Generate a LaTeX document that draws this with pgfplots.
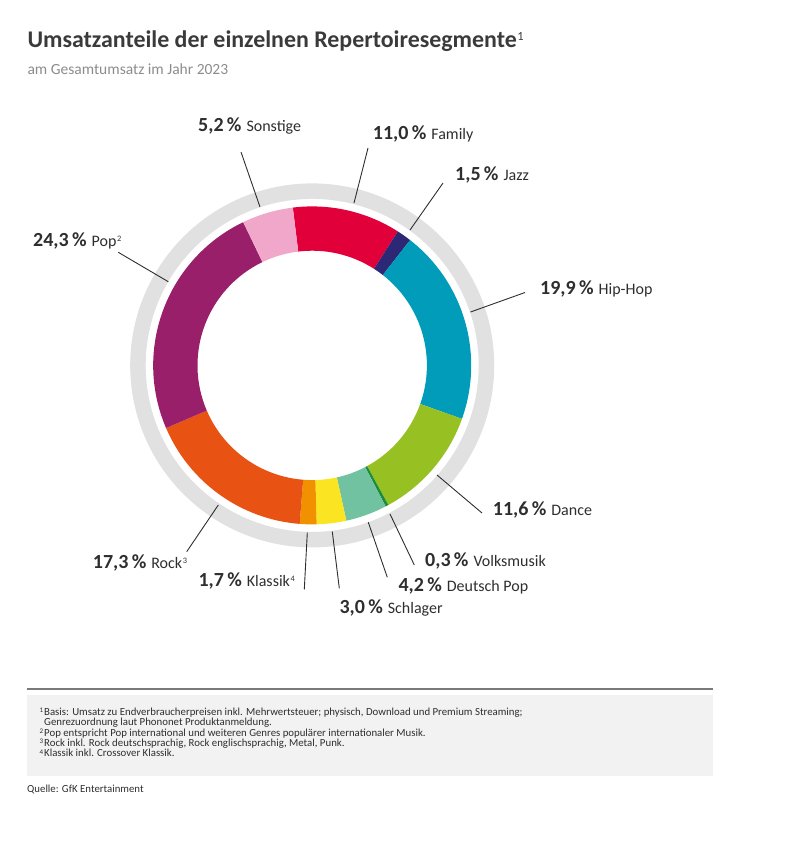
\documentclass[border=0pt]{standalone}
\usepackage{pgfplots}
\pgfplotsset{compat=1.18}
\usepackage{pgfplotstable}
\usepackage{fontspec}
\setmainfont{Carlito}

\definecolor{txt}{HTML}{2E2E2E}
\definecolor{titletxt}{HTML}{3A3A3A}
\definecolor{subtxt}{HTML}{8C8C8C}
\definecolor{ringgray}{HTML}{E1E1E1}
\definecolor{notebg}{HTML}{F2F2F2}
\definecolor{rulegray}{HTML}{7A7A7A}
\definecolor{cFamily}{RGB}{226,0,58}
\definecolor{cJazz}{RGB}{45,40,118}
\definecolor{cHipHop}{RGB}{0,156,186}
\definecolor{cDance}{RGB}{151,192,35}
\definecolor{cVolks}{RGB}{27,140,58}
\definecolor{cDPop}{RGB}{112,194,160}
\definecolor{cSchlager}{RGB}{251,229,35}
\definecolor{cKlassik}{RGB}{242,145,0}
\definecolor{cRock}{RGB}{232,82,18}
\definecolor{cPop}{RGB}{154,31,106}
\definecolor{cSonst}{RGB}{241,167,202}

% Anteile in Prozent, im Uhrzeigersinn ab Family
\pgfplotstableread{
genre      share start
Family     11.0  0.0
Jazz       1.5   11.0
HipHop     19.9  12.5
Dance      11.6  32.4
Volksmusik 0.3   44.0
DeutschPop 4.2   44.3
Schlager   3.0   48.5
Klassik    1.7   51.5
Rock       17.3  53.2
Pop        24.3  70.5
Sonstige   5.2   94.8
}\segments

% Ringsegment um den Datenpunkt (Radien in bp)
\pgfdeclareplotmark{ringpart}{%
  \pgfmathsetmacro\angA{97-3.6*\segstart}%
  \pgfmathsetmacro\angB{97-3.6*(\segstart+\segshare)}%
  \pgfpathmoveto{\pgfpointpolar{\angA}{159bp}}%
  \pgfpatharc{\angA}{\angB}{159bp}%
  \pgfpathlineto{\pgfpointpolar{\angB}{114.7bp}}%
  \pgfpatharc{\angB}{\angA}{114.7bp}%
  \pgfpathclose
  \pgfusepathqfill
}

\tikzset{leader/.style={draw=txt, line width=0.9bp}}
\newcommand\numfont{\fontsize{20bp}{20bp}\selectfont\bfseries}
\newcommand\namefont{\fontsize{16bp}{16bp}\selectfont}
\newcommand\supnum[1]{\kern0.6bp\raisebox{0.3em}{\fontsize{0.52em}{0.52em}\selectfont #1}}
\newcommand\fn[1]{\makebox[4.5bp][l]{\raisebox{2.6bp}{\fontsize{7bp}{7bp}\selectfont #1}}}
\newcommand\lab[4]{\node[anchor=base west, inner sep=0pt, text=txt] at (axis cs:#1,#2)
  {{\numfont #3\,\%}\hspace{5bp}{\namefont #4}};}

\begin{document}
\begin{tikzpicture}
\begin{axis}[
  width=798bp, height=850bp, scale only axis,
  xmin=0, xmax=798, ymin=0, ymax=850, y dir=reverse,
  hide axis, clip=false,
]
% grauer Aussenring
\draw[ringgray, line width=15.5bp] (axis cs:312.2,365.4) circle[radius=174.25bp];

\addplot[scatter, only marks, mark=ringpart,
  point meta=explicit symbolic,
  scatter/classes={
    Family={fill=cFamily}, Jazz={fill=cJazz}, HipHop={fill=cHipHop},
    Dance={fill=cDance}, Volksmusik={fill=cVolks}, DeutschPop={fill=cDPop},
    Schlager={fill=cSchlager}, Klassik={fill=cKlassik}, Rock={fill=cRock},
    Pop={fill=cPop}, Sonstige={fill=cSonst}},
  visualization depends on=\thisrow{start} \as \segstart,
  visualization depends on=\thisrow{share} \as \segshare,
] table[x expr=312.2, y expr=365.4, meta=genre] {\segments};

% Hinweislinien
\draw[leader] (axis cs:260,207) -- (axis cs:241,152);
\draw[leader] (axis cs:354,203) -- (axis cs:368,148);
\draw[leader] (axis cs:410,230) -- (axis cs:443,183);
\draw[leader] (axis cs:470.5,312) -- (axis cs:525,292.5);
\draw[leader] (axis cs:437,475) -- (axis cs:482,513);
\draw[leader] (axis cs:390,514) -- (axis cs:414.3,565);
\draw[leader] (axis cs:368.3,522.3) -- (axis cs:387.3,577.3);
\draw[leader] (axis cs:332.3,531.7) -- (axis cs:339.3,588.3);
\draw[leader] (axis cs:307.3,532.7) -- (axis cs:304.3,589.3);
\draw[leader] (axis cs:218.3,505) -- (axis cs:186.7,551.7);
\draw[leader] (axis cs:168.3,281.7) -- (axis cs:118.3,252.3);

% Beschriftungen
\lab{198}{131.7}{5,2}{Sonstige}
\lab{372.7}{139}{11,0}{Family}
\lab{455}{180}{1,5}{Jazz}
\lab{540}{294}{19,9}{Hip-Hop}
\lab{492.7}{515}{11,6}{Dance}
\lab{425}{566.7}{0,3}{Volksmusik}
\lab{398.3}{591.5}{4,2}{Deutsch Pop}
\lab{339.3}{613}{3,0}{Schlager}
\lab{198.3}{586.5}{1,7}{Klassik\supnum{4}}
\lab{92.7}{568}{17,3}{Rock\supnum{3}}
\lab{33}{246.7}{24,3}{Pop\supnum{2}}

% Titel
\node[anchor=base west, inner sep=0pt, text=titletxt] at (axis cs:27.3,47.3)
  {\fontsize{23.9bp}{23.9bp}\selectfont\bfseries Umsatzanteile der einzelnen Repertoiresegmente\mdseries\supnum{1}};
\node[anchor=base west, inner sep=0pt, text=subtxt] at (axis cs:27.3,74.3)
  {\fontsize{15.5bp}{15.5bp}\selectfont am Gesamtumsatz im Jahr 2023};

% Fussnoten
\fill[notebg] (axis cs:27,695) rectangle (axis cs:713,776);
\draw[rulegray, line width=1.6bp] (axis cs:27,689) -- (axis cs:713,689);
\begin{scope}[every node/.style={anchor=base west, inner sep=0pt, text=txt,
    font=\fontsize{10.8bp}{10.8bp}\selectfont}]
\node at (axis cs:39.5,715) {\fn{1}Basis: Umsatz zu Endverbraucherpreisen inkl. Mehrwertsteuer; physisch, Download und Premium Streaming;};
\node at (axis cs:44,725.5) {Genrezuordnung laut Phononet Produktanmeldung.};
\node at (axis cs:39.5,736) {\fn{2}Pop entspricht Pop international und weiteren Genres populärer internationaler Musik.};
\node at (axis cs:39.5,746.3) {\fn{3}Rock inkl. Rock deutschsprachig, Rock englischsprachig, Metal, Punk.};
\node at (axis cs:39.5,756.7) {\fn{4}Klassik inkl. Crossover Klassik.};
\node at (axis cs:27,792) {Quelle: GfK Entertainment};
\end{scope}
\end{axis}
\path (0,0) rectangle (798bp,850bp);
\end{tikzpicture}
\end{document}
